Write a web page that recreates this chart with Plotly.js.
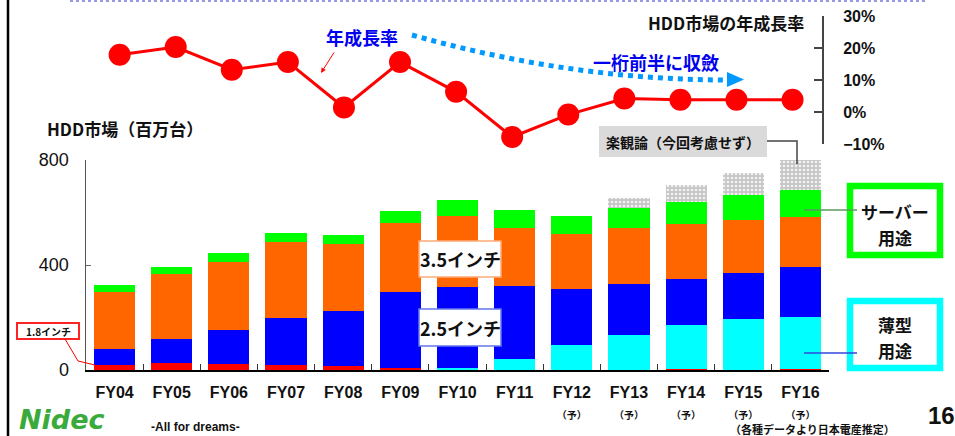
<!DOCTYPE html>
<html>
<head>
<meta charset="utf-8">
<script src="https://cdn.plot.ly/plotly-3.0.1.min.js"></script>
<style>
  html, body { margin: 0; padding: 0; background: #ffffff; }
  #chart { width: 955px; height: 436px; }
</style>
</head>
<body>
<div id="chart"></div>
<script>
// ---------- data ----------
var categories = ['FY04','FY05','FY06','FY07','FY08','FY09','FY10','FY11','FY12','FY13','FY14','FY15','FY16'];
var forecast   = [false,false,false,false,false,false,false,false,true,true,true,true,true];
var inch18     = [19, 28, 24, 19, 15, 9, 0, 0, 0, 0, 3, 0, 3];
var thinUse    = [0, 0, 0, 0, 0, 0, 8, 42, 95, 133, 168, 194, 199];
var inch25     = [61, 90, 128, 180, 210, 289, 309, 278, 214, 195, 176, 176, 190];
var inch35     = [218, 249, 261, 290, 256, 262, 271, 222, 210, 214, 210, 203, 191];
var serverUse  = [26, 25, 33, 33, 33, 46, 60, 68, 68, 75, 83, 94, 103];
var optimistic = [0, 0, 0, 0, 0, 0, 0, 0, 0, 38, 65, 82, 114];
var growthPct  = [17.9, 20.3, 13.2, 15.6, 1.4, 15.6, 6.3, -7.8, -0.8, 4.2, 3.8, 3.8, 3.8];
var barTicks   = [0, 400, 800];
var growthTicks = [-10, 0, 10, 20, 30];
var growthTickLabels = ['−10%', '0%', '10%', '20%', '30%'];

// ---------- helpers (pixel -> paper) ----------
var W = 955, H = 436;
function px(x) { return x / W; }
function py(y) { return (H - y) / H; }

var FONT = 'Liberation Sans, Arial, "Noto Sans CJK JP", sans-serif';
var CJK = '"Noto Sans CJK JP", "Liberation Sans", sans-serif';

var tickText = categories.map(function (c, i) {
  return forecast[i] ? c + '<br><span style="font-size:10px">（予）</span>' : c;
});

function barTrace(name, vals, color) {
  return {
    type: 'bar', name: name, x: categories, y: vals,
    xaxis: 'x', yaxis: 'y',
    marker: { color: color, line: { width: 0 } },
    hoverinfo: 'skip'
  };
}

var traces = [
  barTrace('1.8インチ', inch18, '#ff0000'),
  barTrace('薄型用途', thinUse, '#00ffff'),
  barTrace('2.5インチ', inch25, '#0000ff'),
  barTrace('3.5インチ', inch35, '#ff6600'),
  barTrace('サーバー用途', serverUse, '#00ff00'),
  {
    type: 'bar', name: '楽観論', x: categories, y: optimistic,
    xaxis: 'x', yaxis: 'y', hoverinfo: 'skip',
    marker: {
      color: '#cfcfcf', line: { width: 0 },
      pattern: { shape: '.', fgcolor: '#f2f2f2', bgcolor: '#c6c6c6', size: 4, solidity: 0.35 }
    }
  },
  {
    type: 'scatter', mode: 'lines+markers', name: 'HDD市場の年成長率',
    x: categories, y: growthPct, xaxis: 'x2', yaxis: 'y2',
    line: { color: '#ff0000', width: 3 },
    marker: { color: '#ff0000', size: 22 },
    cliponaxis: false, hoverinfo: 'skip'
  }
];

var shapes = [
  // left border
  { type: 'line', xref: 'paper', yref: 'paper', x0: px(8), x1: px(8), y0: py(0), y1: py(436),
    line: { color: '#000000', width: 2.5 } },
  // top dotted rule
  { type: 'line', xref: 'paper', yref: 'paper', x0: px(70), x1: px(925), y0: py(1), y1: py(1),
    line: { color: '#9a9ae8', width: 2, dash: 'dot' } },
  // blue dotted curved arrow
  { type: 'path', xref: 'paper', yref: 'paper',
    path: 'M ' + px(412) + ',' + py(35) + ' Q ' + px(572) + ',' + py(80) + ' ' + px(728) + ',' + py(80),
    line: { color: '#0099ff', width: 5, dash: '5px,5px' } },
  { type: 'path', xref: 'paper', yref: 'paper',
    path: 'M ' + px(727) + ',' + py(72) + ' L ' + px(744) + ',' + py(79.5) + ' L ' + px(727) + ',' + py(87) + ' Z',
    fillcolor: '#0099ff', line: { width: 0 } },
  // 楽観論 box + connector
  { type: 'rect', xref: 'paper', yref: 'paper', x0: px(599), x1: px(767), y0: py(157), y1: py(126),
    fillcolor: '#dadada', line: { width: 0 }, layer: 'above' },
  { type: 'path', xref: 'paper', yref: 'paper',
    path: 'M ' + px(767) + ',' + py(141) + ' L ' + px(797) + ',' + py(141) + ' L ' + px(797) + ',' + py(164),
    line: { color: '#444444', width: 1.5 }, layer: 'above' },
  // 3.5 / 2.5 label boxes
  { type: 'rect', xref: 'paper', yref: 'paper', x0: px(419), x1: px(501), y0: py(277), y1: py(241),
    fillcolor: '#ffffff', line: { color: '#ffaa77', width: 1.5 }, layer: 'above' },
  { type: 'rect', xref: 'paper', yref: 'paper', x0: px(419), x1: px(501), y0: py(346), y1: py(309),
    fillcolor: '#ffffff', line: { color: '#6677ee', width: 1.5 }, layer: 'above' },
  // 1.8 box + leader
  { type: 'rect', xref: 'paper', yref: 'paper', x0: px(17), x1: px(79), y0: py(339), y1: py(323),
    fillcolor: '#ffffff', line: { color: '#ff2222', width: 2 }, layer: 'above' },
  { type: 'path', xref: 'paper', yref: 'paper',
    path: 'M ' + px(65) + ',' + py(339) + ' L ' + px(78) + ',' + py(361) + ' L ' + px(95) + ',' + py(365),
    line: { color: '#ff0000', width: 1 }, layer: 'above' },
  // サーバー用途 box + leader
  { type: 'rect', xref: 'paper', yref: 'paper', x0: px(850), x1: px(940), y0: py(255), y1: py(186),
    fillcolor: '#ffffff', line: { color: '#00ff00', width: 6.5 }, layer: 'above' },
  { type: 'line', xref: 'paper', yref: 'paper', x0: px(804), x1: px(857), y0: py(210), y1: py(210),
    line: { color: '#5a9a5a', width: 1.5 }, layer: 'above' },
  // 薄型用途 box + leader
  { type: 'rect', xref: 'paper', yref: 'paper', x0: px(850), x1: px(940), y0: py(368), y1: py(301),
    fillcolor: '#ffffff', line: { color: '#00ffff', width: 6.5 }, layer: 'above' },
  { type: 'line', xref: 'paper', yref: 'paper', x0: px(804), x1: px(857), y0: py(353), y1: py(353),
    line: { color: '#3344dd', width: 1.5 }, layer: 'above' }
];

function ann(text, x, y, size, color, opts) {
  var a = {
    xref: 'paper', yref: 'paper', x: px(x), y: py(y), text: text,
    showarrow: false, xanchor: 'center', yanchor: 'middle',
    font: { family: CJK, size: size, color: color || '#000000', weight: 'bold' }
  };
  if (opts) for (var k in opts) a[k] = opts[k];
  return a;
}

var annotations = [
  ann('年成長率', 362, 37, 18, '#0000ee'),
  ann('一桁前半に収斂', 656, 62, 18, '#0000ee'),
  ann('HDD市場の年成長率', 806, 22, 17, '#111111', { xanchor: 'right' }),
  ann('HDD市場（百万台）', 45, 128, 17, '#111111', { xanchor: 'left' }),
  ann('楽観論（今回考慮せず）', 683, 142, 14, '#111111'),
  ann('3.5インチ', 460, 259, 18, '#111111'),
  ann('2.5インチ', 460, 328, 18, '#111111'),
  ann('1.8インチ', 48, 331, 10, '#111111'),
  ann('サーバー', 895, 211, 17, '#111111'),
  ann('用途', 895, 238, 17, '#111111'),
  ann('薄型', 895, 324, 17, '#111111'),
  ann('用途', 895, 350, 17, '#111111'),
  ann('（各種データより日本電産推定）', 812, 429, 11, '#111111', { borderpad: 0 }),
  ann('16', 941, 415, 24, '#111111', { font: { family: FONT, size: 24, color: '#111111', weight: 'bold' } }),
  ann('<i>Nidec</i>', 18, 436, 27, '#33aa33', { xanchor: 'left', yanchor: 'bottom', borderpad: 0,
    font: { family: 'DejaVu Sans, Liberation Sans, sans-serif', size: 27, color: '#3aaa3a', weight: 'bold' } }),
  ann('-All for dreams-', 150, 427, 12, '#111111', { xanchor: 'left', borderpad: 0,
    font: { family: 'Liberation Sans, Arial, sans-serif', size: 12, color: '#111111', weight: 'bold' } }),
  // small red arrow pointing at the line
  { xref: 'paper', yref: 'paper', x: px(321), y: py(73), ax: 14, ay: -22, text: '',
    showarrow: true, arrowhead: 2, arrowsize: 1, arrowwidth: 1, arrowcolor: '#ff0000' }
];

var layout = {
  width: W, height: H,
  margin: { l: 0, r: 0, t: 0, b: 0 },
  paper_bgcolor: '#ffffff', plot_bgcolor: 'rgba(0,0,0,0)',
  showlegend: false, barmode: 'stack', bargap: 0.28,
  font: { family: FONT, color: '#000000' },
  xaxis: {
    domain: [px(86), px(829)], anchor: 'y', type: 'category',
    range: [-0.5, 12.5],
    tickmode: 'array', tickvals: categories, ticktext: tickText,
    tickson: 'boundaries', ticks: 'inside', ticklen: 6, tickcolor: '#333333', tickwidth: 1,
    showline: true, linecolor: '#000000', linewidth: 2,
    showgrid: false, zeroline: false,
    tickfont: { family: FONT, size: 16, color: '#111111', weight: 'bold' },
    ticklabelstandoff: 7
  },
  yaxis: {
    domain: [py(370), py(160)], anchor: 'x', range: [0, 800],
    tickmode: 'array', tickvals: barTicks,
    ticks: 'inside', ticklen: 5, tickcolor: '#666666',
    showline: true, linecolor: '#555555', linewidth: 1.5,
    showgrid: false, zeroline: false,
    tickfont: { family: FONT, size: 18, color: '#111111' },
    ticklabelstandoff: 12
  },
  xaxis2: {
    domain: [px(86), px(829)], anchor: 'y2', type: 'category',
    range: [-0.6, 12.65], visible: false, showgrid: false
  },
  yaxis2: {
    domain: [py(144), py(16)], anchor: 'free', position: px(823), side: 'right',
    range: [-10, 30], tickmode: 'array', tickvals: growthTicks, ticktext: growthTickLabels,
    ticks: 'inside', ticklen: 8, tickcolor: '#444444', tickwidth: 1.5,
    showline: true, linecolor: '#444444', linewidth: 2,
    showgrid: false, zeroline: false,
    tickfont: { family: FONT, size: 16, color: '#111111', weight: 'bold' },
    ticklabelstandoff: 16
  },
  shapes: shapes,
  annotations: annotations
};

Plotly.newPlot('chart', traces, layout, { displayModeBar: false, staticPlot: true });
</script>
</body>
</html>
